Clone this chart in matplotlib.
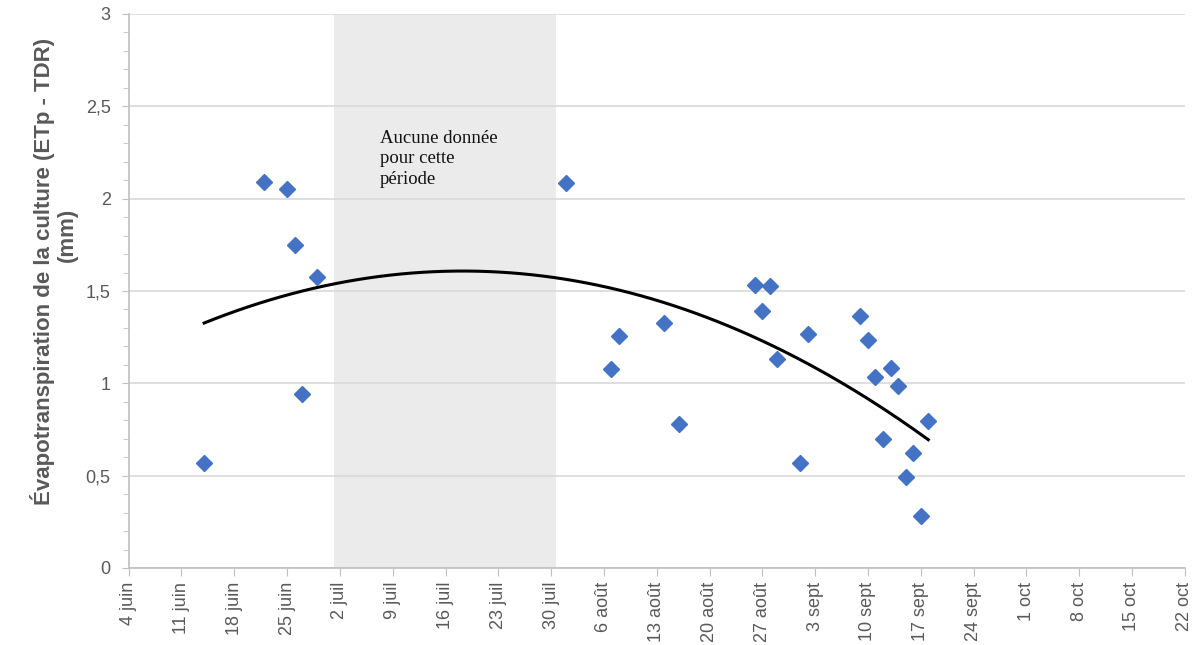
import numpy as np
import pandas as pd
import matplotlib
matplotlib.use('Agg')
import matplotlib.pyplot as plt
import matplotlib.dates as mdates
from matplotlib.ticker import MultipleLocator, FuncFormatter

# mesures ETp - TDR
dates = ['2018-06-14', '2018-06-22', '2018-06-25', '2018-06-26', '2018-06-27', '2018-06-29',
         '2018-08-01', '2018-08-07', '2018-08-08', '2018-08-14', '2018-08-16',
         '2018-08-26', '2018-08-27', '2018-08-28', '2018-08-29', '2018-09-01', '2018-09-02',
         '2018-09-09', '2018-09-10', '2018-09-11', '2018-09-12', '2018-09-13', '2018-09-14',
         '2018-09-15', '2018-09-16', '2018-09-17', '2018-09-18']
etp = [0.57, 2.09, 2.05, 1.75, 0.94, 1.575,
       2.085, 1.08, 1.255, 1.325, 0.78,
       1.53, 1.39, 1.525, 1.13, 0.57, 1.265,
       1.365, 1.235, 1.035, 0.70, 1.085, 0.985,
       0.495, 0.625, 0.28, 0.795]
gap_start = '2018-07-01 06:00'
gap_end = '2018-07-30 14:00'
tick_start = '2018-06-04'
tick_end = '2018-10-22'
mois = {6: 'juin', 7: 'juil', 8: 'août', 9: 'sept', 10: 'oct'}

df = pd.DataFrame({'date': pd.to_datetime(dates), 'etp': etp})
x = mdates.date2num(df.date)

plt.rcParams['font.family'] = ['Liberation Sans', 'DejaVu Sans']
grey = '#595959'

fig = plt.figure(figsize=(11.96, 6.45), dpi=100)
ax = fig.add_axes([0.1076, 0.1194, 0.883, 0.8589])

ax.axvspan(pd.Timestamp(gap_start), pd.Timestamp(gap_end), color='#ebebeb', zorder=0, lw=0)
ax.text(pd.Timestamp('2018-07-07 06:00'), 2.372, 'Aucune donnée\npour cette\npériode',
        family='Liberation Serif', fontsize=13.5, va='top', ha='left', linespacing=1.27, color='#111111')

# courbe de tendance polynomiale (ordre 2)
coef = np.polyfit(x, df.etp, 2)
xs = np.linspace(x.min(), x.max(), 200)
ax.plot(mdates.num2date(xs), np.polyval(coef, xs), color='black', lw=2.2, zorder=3)

ax.plot(df.date, df.etp, 'D', color='#4472C4', markersize=8, zorder=4)

ax.set_ylim(0, 3)
ax.set_xlim(pd.Timestamp(tick_start), pd.Timestamp(tick_end))
ax.yaxis.set_major_locator(MultipleLocator(0.5))
ax.yaxis.set_minor_locator(MultipleLocator(0.1))
ax.yaxis.set_major_formatter(FuncFormatter(lambda v, p: ('%g' % v).replace('.', ',')))
ax.grid(axis='y', color='#d9d9d9', lw=1.2, zorder=1)
ax.set_axisbelow(True)

ticks = pd.date_range(tick_start, tick_end, freq='7D')
ax.set_xticks(ticks)
ax.set_xticklabels(['%d %s' % (d.day, mois[d.month]) for d in ticks], rotation=90)

for s in ['top', 'right']:
    ax.spines[s].set_visible(False)
for s in ['left', 'bottom']:
    ax.spines[s].set_color('#bfbfbf')
    ax.spines[s].set_linewidth(1.2)
ax.tick_params(axis='both', which='both', color='#bfbfbf', labelcolor=grey, labelsize=13)
ax.tick_params(axis='y', which='major', length=5, pad=8)
ax.tick_params(axis='y', which='minor', length=4)
ax.tick_params(axis='x', length=6, pad=4)

# titre de l'axe y sur deux lignes
fig.text(43 / 1196, 1 - 271 / 645, 'Évapotranspiration de la culture (ETp - TDR)', rotation=90,
         fontsize=16, fontweight='bold', color=grey, ha='center', va='center')
fig.text(67 / 1196, 1 - 235 / 645, '(mm)', rotation=90,
         fontsize=16, fontweight='bold', color=grey, ha='center', va='center')

fig.savefig('out.png', dpi=100)
